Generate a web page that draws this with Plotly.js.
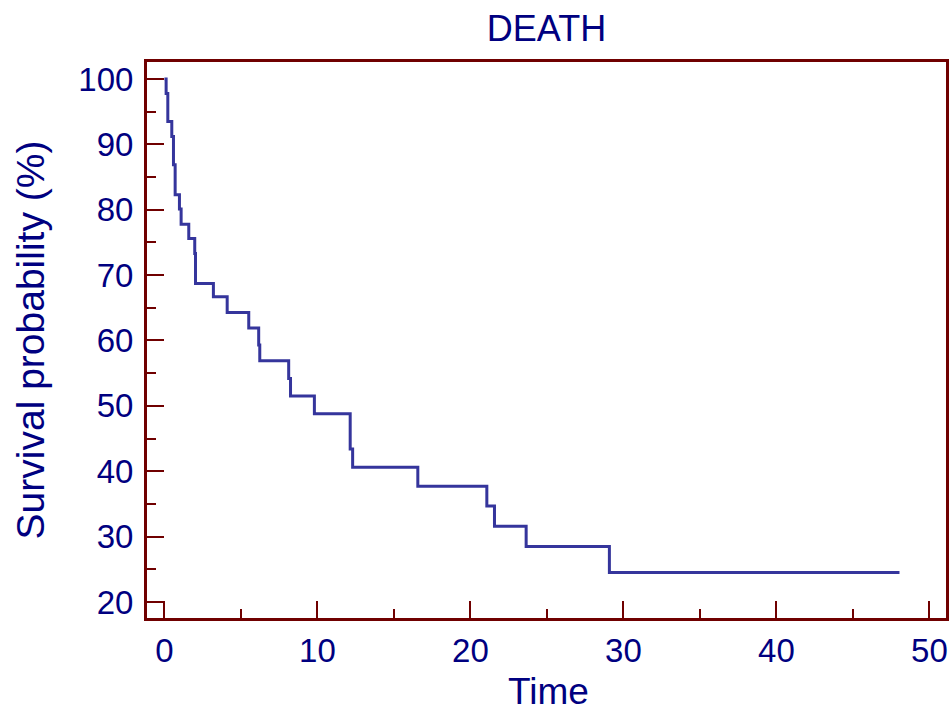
<!DOCTYPE html>
<html>
<head>
<meta charset="utf-8">
<script src="https://cdn.plot.ly/plotly-3.0.1.min.js"></script>
<style>html,body{margin:0;padding:0;background:#fff;}#chart{width:950px;height:717px;}</style>
</head>
<body>
<div id="chart"></div>
<script>
// Kaplan-Meier survival estimate
const times = [0, 0.11, 0.22, 0.48, 0.59, 0.70, 0.98, 1.09, 1.59, 1.98, 2.03, 3.2, 4.1, 5.51, 6.16, 6.23, 8.12, 8.24, 9.8, 12.14, 12.3, 16.56, 21.07, 21.57, 23.64, 29.08, 48.04];
const survival = [100, 97.8, 93.5, 91.2, 86.9, 82.3, 80.1, 77.8, 75.6, 73.3, 68.7, 66.7, 64.3, 61.9, 59.3, 56.9, 54.2, 51.5, 48.8, 43.4, 40.6, 37.7, 34.7, 31.6, 28.5, 24.5, 24.5];
const xTickVals = [0, 10, 20, 30, 40, 50];
const yTickVals = [20, 30, 40, 50, 60, 70, 80, 90, 100];

const textColor = '#000080';
const frameColor = '#700000';
const fontFam = '"Liberation Sans", Arial, Helvetica, sans-serif';

const trace = {
  x: times, y: survival, type: 'scatter', mode: 'lines',
  line: {shape: 'hv', color: '#35359c', width: 3},
  hoverinfo: 'skip'
};

const layout = {
  width: 950, height: 717,
  margin: {l: 147, r: 4, t: 62, b: 99, pad: 0},
  paper_bgcolor: '#ffffff', plot_bgcolor: '#ffffff',
  showlegend: false,
  font: {family: fontFam, color: textColor},
  title: {text: 'DEATH', font: {size: 36, color: textColor, family: fontFam},
          x: 0.5, xref: 'paper', y: 1 - 28/717, yref: 'container', yanchor: 'middle'},
  xaxis: {
    range: [-1.14, 51.08], showgrid: false, zeroline: false,
    showline: true, mirror: true, linecolor: frameColor, linewidth: 3,
    tickmode: 'array', tickvals: xTickVals, ticktext: xTickVals.map(String),
    ticks: 'inside', ticklen: 17, tickwidth: 2, tickcolor: frameColor,
    minor: {dtick: 5, tick0: 0, ticks: 'inside', ticklen: 9, tickwidth: 2, tickcolor: frameColor, showgrid: false},
    tickfont: {size: 33, color: textColor, family: fontFam},
    ticklabelstandoff: 1
  },
  yaxis: {
    range: [17.55, 102.6], showgrid: false, zeroline: false,
    showline: true, mirror: true, linecolor: frameColor, linewidth: 3,
    tickmode: 'array', tickvals: yTickVals, ticktext: yTickVals.map(String),
    ticks: 'inside', ticklen: 17, tickwidth: 2, tickcolor: frameColor,
    minor: {dtick: 5, tick0: 0, ticks: 'inside', ticklen: 9, tickwidth: 2, tickcolor: frameColor, showgrid: false},
    tickfont: {size: 33, color: textColor, family: fontFam},
    ticklabelstandoff: 4,
    title: {text: 'Survival probability (%)', font: {size: 39, color: textColor, family: fontFam}, standoff: 22}
  },
  annotations: [{
    text: 'Time', showarrow: false, xref: 'paper', yref: 'paper',
    x: 0.502, y: -(691 - 618) / 556, xanchor: 'center', yanchor: 'middle',
    font: {size: 37, color: textColor, family: fontFam}
  }]
};

Plotly.newPlot('chart', [trace], layout, {displayModeBar: false, staticPlot: true});
</script>
</body>
</html>
